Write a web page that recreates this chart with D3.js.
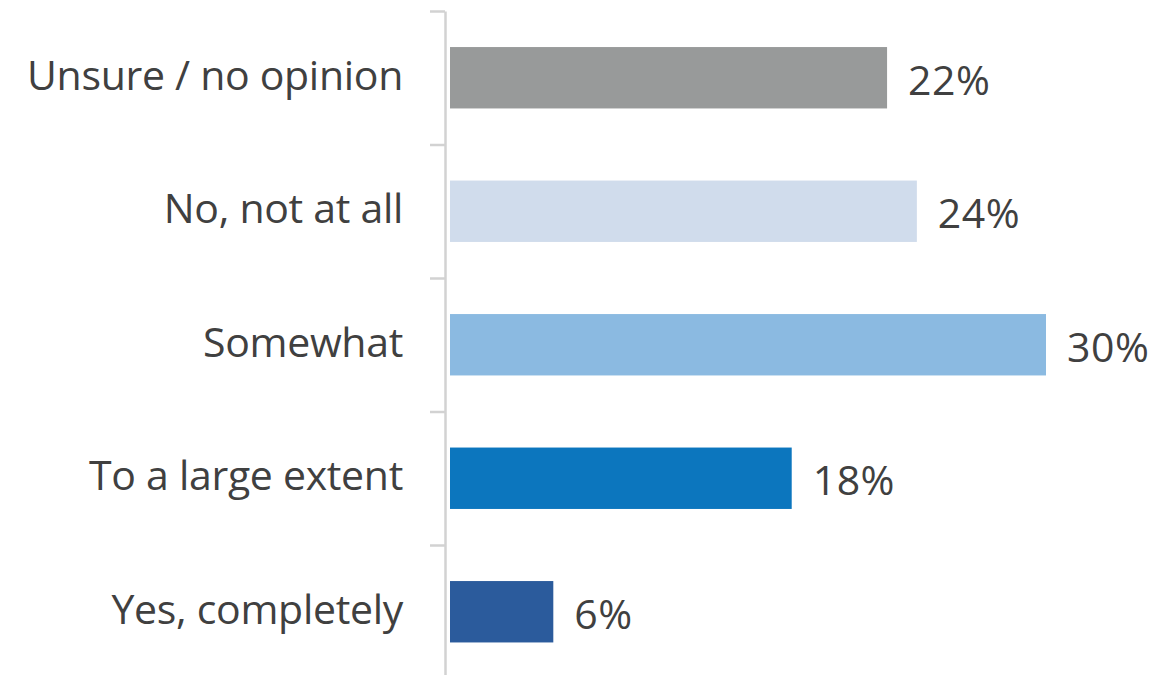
<!DOCTYPE html>
<html>
<head>
<meta charset="utf-8">
<script src="https://cdn.jsdelivr.net/npm/d3@7"></script>
<style>
  html, body { margin: 0; padding: 0; background: #fff; }
  svg { display: block; }
</style>
</head>
<body>
<svg id="chart" width="1153" height="675"></svg>
<script>
const categories = ["Unsure / no opinion", "No, not at all", "Somewhat", "To a large extent", "Yes, completely"];
const values = [22, 23.5, 30, 17.2, 5.2];
const valueLabels = ["22%", "24%", "30%", "18%", "6%"];
const colors = ["#989a9a", "#d0dcec", "#8bbae1", "#0c76be", "#2b5b9c"];

(function () {
const svg = d3.select("#chart");
const axisX = 445, barX0 = 450;
const yTop = 11, step = 133.5;

const x = d3.scaleLinear().domain([0, 30]).range([barX0, 1046]);
const y = d3.scaleBand().domain(categories)
  .range([yTop, yTop + step * categories.length])
  .paddingInner(0.54).paddingOuter(0.27);

const yb = d3.scaleLinear().domain([0, categories.length]).range([yTop, yTop + step * categories.length]);
const axis = svg.append("g").attr("transform", `translate(${axisX},0)`)
  .call(d3.axisLeft(yb).tickValues(d3.range(categories.length + 1)).tickSize(15).tickSizeOuter(0).tickFormat(""));
axis.selectAll("path, line").attr("stroke", "#d2d2d2").attr("stroke-width", 2.5);

svg.selectAll("rect.bar").data(categories).join("rect")
  .attr("class", "bar")
  .attr("x", x(0))
  .attr("y", d => y(d))
  .attr("width", (d, i) => x(values[i]) - x(0))
  .attr("height", y.bandwidth())
  .attr("fill", (d, i) => colors[i]);

const font = "'Open Sans', 'Noto Sans', sans-serif";

svg.selectAll("text.cat").data(categories).join("text")
  .attr("class", "cat")
  .attr("x", 403)
  .attr("y", d => y(d) + y.bandwidth() / 2 + 12)
  .attr("text-anchor", "end")
  .attr("font-family", font)
  .attr("font-size", 41)
  .attr("letter-spacing", -0.3)
  .attr("fill", "#404040")
  .text(d => d);

svg.selectAll("text.val").data(categories).join("text")
  .attr("class", "val")
  .attr("x", (d, i) => x(values[i]) + 21)
  .attr("y", d => y(d) + y.bandwidth() / 2 + 17)
  .attr("font-family", font)
  .attr("font-size", 41)
  .attr("letter-spacing", 0.5)
  .attr("fill", "#404040")
  .text((d, i) => valueLabels[i]);
})();
</script>
</body>
</html>
